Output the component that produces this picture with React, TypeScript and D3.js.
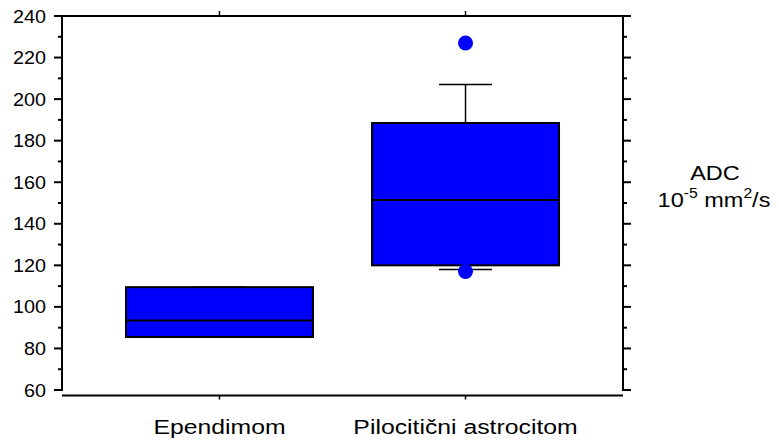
import { useEffect, useRef } from "react";
import { scaleLinear, scaleBand, select, range } from "d3";

const WIDTH = 779;
const HEIGHT = 443;

const CATEGORIES = ["Ependimom", "Pilocitični astrocitom"];
const Q1 = [85.5, 120];
const MEDIAN = [93.5, 151.5];
const Q3 = [109.5, 188.5];
const WHISKER_LOW = [85.5, 118];
const WHISKER_HIGH = [109.5, 207];
const OUTLIERS = [[], [227, 117]];
const Y_TICKS = [60, 80, 100, 120, 140, 160, 180, 200, 220, 240];

const BOX_FILL = "#0000ff";
const FONT = "Liberation Sans, Arial, sans-serif";

// plot frame in px
const LEFT = 62;
const RIGHT = 623;
const TOP = 16;
const BOTTOM = 390;
const X_AXIS_Y = 395.5;

export default function App() {
  const svgRef = useRef<SVGSVGElement>(null);

  useEffect(() => {
    const svg = select(svgRef.current);
    svg.selectAll("*").remove();
    svg.attr("width", WIDTH).attr("height", HEIGHT);

    const y = scaleLinear().domain([60, 240]).range([BOTTOM, TOP]);
    const x = scaleBand()
      .domain(CATEGORIES)
      .range([LEFT, RIGHT])
      .paddingInner(0.24)
      .paddingOuter(0.26);
    const bw = x.bandwidth();
    const capW = 53;

    // stretched text helper (the original glyphs are wider than Arial)
    const label = (
      tx: number,
      ty: number,
      txt: string,
      size: number,
      anchor: string,
      sx = 1.18
    ) =>
      svg
        .append("text")
        .attr("transform", `translate(${tx},${ty}) scale(${sx},1)`)
        .attr("text-anchor", anchor)
        .attr("font-family", FONT)
        .attr("font-size", `${size}px`)
        .attr("fill", "#000")
        .text(txt);

    // frame: top line
    svg.append("line")
      .attr("x1", LEFT).attr("x2", RIGHT)
      .attr("y1", TOP).attr("y2", TOP)
      .attr("stroke", "#000").attr("stroke-width", 2);

    // left and right y axes
    [LEFT, RIGHT].forEach((ax) => {
      svg.append("line")
        .attr("x1", ax).attr("x2", ax)
        .attr("y1", TOP - 1).attr("y2", BOTTOM + 1)
        .attr("stroke", "#000").attr("stroke-width", 2);
      const dir = ax === LEFT ? -1 : 1;
      range(60, 241, 10).forEach((v) => {
        const major = v % 20 === 0;
        svg.append("line")
          .attr("x1", ax).attr("x2", ax + dir * (major ? 8 : 4))
          .attr("y1", y(v)).attr("y2", y(v))
          .attr("stroke", "#000").attr("stroke-width", 2);
      });
    });

    Y_TICKS.forEach((v) => {
      label(46, y(v) + 6.5, String(v), 18, "end", 1.1);
    });

    // bottom axis
    svg.append("line")
      .attr("x1", LEFT).attr("x2", RIGHT)
      .attr("y1", X_AXIS_Y).attr("y2", X_AXIS_Y)
      .attr("stroke", "#000").attr("stroke-width", 2);

    CATEGORIES.forEach((c) => {
      const cx = (x(c) ?? 0) + bw / 2;
      svg.append("line")
        .attr("x1", cx).attr("x2", cx)
        .attr("y1", X_AXIS_Y).attr("y2", X_AXIS_Y + 4)
        .attr("stroke", "#000").attr("stroke-width", 1.5);
      svg.append("line")
        .attr("x1", cx).attr("x2", cx)
        .attr("y1", TOP).attr("y2", TOP - 5)
        .attr("stroke", "#000").attr("stroke-width", 1.5);
      label(cx, 434, c, 21, "middle");
    });

    // boxes
    CATEGORIES.forEach((c, i) => {
      const x0 = x(c) ?? 0;
      const cx = x0 + bw / 2;

      // whiskers
      [
        [Q3[i], WHISKER_HIGH[i]],
        [Q1[i], WHISKER_LOW[i]],
      ].forEach(([from, to]) => {
        svg.append("line")
          .attr("x1", cx).attr("x2", cx)
          .attr("y1", y(from)).attr("y2", y(to))
          .attr("stroke", "#000").attr("stroke-width", 1.5);
        svg.append("line")
          .attr("x1", cx - capW / 2).attr("x2", cx + capW / 2)
          .attr("y1", y(to)).attr("y2", y(to))
          .attr("stroke", "#000").attr("stroke-width", 1.5);
      });

      svg.append("rect")
        .attr("x", x0)
        .attr("y", y(Q3[i]))
        .attr("width", bw)
        .attr("height", y(Q1[i]) - y(Q3[i]))
        .attr("fill", BOX_FILL)
        .attr("stroke", "#000")
        .attr("stroke-width", 2);

      svg.append("line")
        .attr("x1", x0).attr("x2", x0 + bw)
        .attr("y1", y(MEDIAN[i])).attr("y2", y(MEDIAN[i]))
        .attr("stroke", "#000").attr("stroke-width", 2);

      OUTLIERS[i].forEach((v) => {
        svg.append("circle")
          .attr("cx", cx)
          .attr("cy", y(v))
          .attr("r", 7.5)
          .attr("fill", BOX_FILL);
      });
    });

    // right axis title
    label(715, 180, "ADC", 21, "middle", 1.12);
    const t = svg
      .append("text")
      .attr("transform", `translate(714,207) scale(1.12,1)`)
      .attr("text-anchor", "middle")
      .attr("font-family", FONT)
      .attr("font-size", "21px")
      .attr("fill", "#000");
    t.append("tspan").text("10");
    t.append("tspan").attr("dy", -9).attr("font-size", "14px").text("-5");
    t.append("tspan").attr("dy", 9).text(" mm");
    t.append("tspan").attr("dy", -9).attr("font-size", "14px").text("2");
    t.append("tspan").attr("dy", 9).text("/s");
  }, []);

  return (
    <svg
      ref={svgRef}
      style={{ position: "absolute", left: 0, top: 0, display: "block" }}
    />
  );
}
